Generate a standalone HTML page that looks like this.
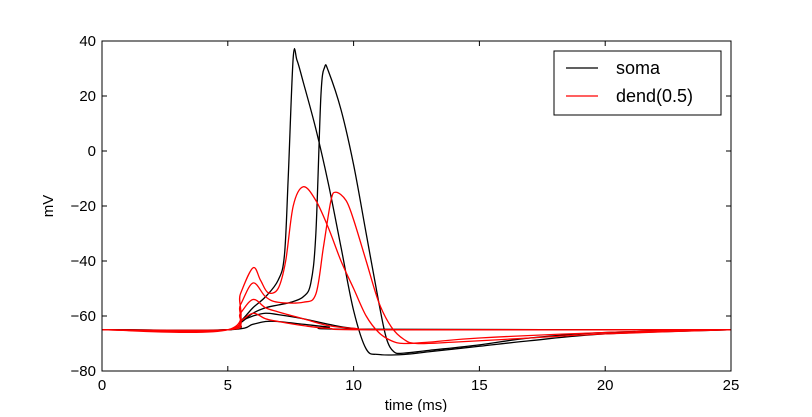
<!DOCTYPE html>
<html><head><meta charset="utf-8"><style>
body{margin:0;background:#fff;}
svg text{font-family:"Liberation Sans","DejaVu Sans",sans-serif;}
</style></head><body>
<svg id="chart" width="812" height="412" xmlns="http://www.w3.org/2000/svg"></svg>
<script>
const xTicks=[0,5,10,15,20,25];
const yTicks=[40,20,0,-20,-40,-60,-80];
const seriesNames=["soma","dend(0.5)"];
const soma1T=[0,5,5.5,6,6.5,7,7.25,7.4,7.6,7.75,8,8.5,9,9.5,10,10.5,11,12,13,15,17,20,25];
const soma1V=[-65,-65,-62,-57,-53,-47,-38,-10,34,33,25,8,-12,-35,-58,-72,-74,-74,-73,-71,-69,-66.5,-65];
const soma2T=[0,5,5.5,6,6.5,7,7.5,8,8.3,8.5,8.7,8.85,9,9.5,10,10.5,11,11.3,11.6,12,13,15,17,20,25];
const soma2V=[-65,-65,-62.5,-59,-57,-56,-55,-53,-48,-30,20,30.5,29,15,-5,-30,-55,-68,-73,-73.5,-72.5,-70.5,-68,-66,-65];
const soma3T=[0,5,5.5,6,6.5,7,8,9,10,12,25];
const soma3V=[-65,-65,-62,-60,-59,-59.5,-61,-63,-64.5,-65,-65];
const soma4T=[0,5,6,6.5,7,8,9,10,25];
const soma4V=[-65,-65,-63,-62,-62,-63,-64,-64.8,-65];
const dend1T=[0,5,5.5,6,6.3,6.6,7,7.3,7.6,8,8.5,9,9.5,10,10.5,11,11.5,12,13,15,20,25];
const dend1V=[-65,-65,-52,-42.5,-47,-51.5,-50,-40,-20,-13,-18,-28,-40,-50,-60,-66,-69,-70,-69.5,-68,-66,-65];
const dend2T=[0,5,5.5,6,6.5,7,8,8.5,8.8,9.1,9.3,9.7,10,10.5,11,11.5,12,12.5,14,17,20,25];
const dend2V=[-65,-65,-56,-48,-53,-55,-55,-52,-35,-18,-15,-18,-25,-40,-55,-64,-68.5,-70,-69.5,-68,-66.5,-65];
const dend3T=[0,5,5.5,6,6.5,7,8,9,10,12,25];
const dend3V=[-65,-65,-59,-54,-57,-58.5,-61,-63.5,-64.5,-65,-65];
const dend4T=[0,5,5.5,6,6.5,7,8,9,11,25];
const dend4V=[-65,-65,-62,-59,-61,-62,-63.5,-64.5,-65,-65];

const X0=102,X1=731,Y0=41,Y1=371;
const xs=t=>X0+(t-0)/(25-0)*(X1-X0);
const ys=v=>Y1-(v+80)/(120)*(Y1-Y0);
const svg=document.getElementById('chart');
const NS="http://www.w3.org/2000/svg";
function mk(tag,attrs){const e=document.createElementNS(NS,tag);for(const k in attrs)e.setAttribute(k,attrs[k]);svg.appendChild(e);return e;}
function pathFor(T,V){
  const p=T.map((t,i)=>[xs(t),ys(V[i])]);
  let d="M"+p[0][0]+","+p[0][1];
  for(let i=0;i<p.length-1;i++){
    const p0=p[Math.max(0,i-1)],p1=p[i],p2=p[i+1],p3=p[Math.min(p.length-1,i+2)];
    const c1=[p1[0]+(p2[0]-p0[0])/6,p1[1]+(p2[1]-p0[1])/6];
    const c2=[p2[0]-(p3[0]-p1[0])/6,p2[1]-(p3[1]-p1[1])/6];
    d+=` C${c1[0]},${c1[1]} ${c2[0]},${c2[1]} ${p2[0]},${p2[1]}`;
  }
  return d;
}
const traces=[[soma1T,soma1V,"#000","soma-trace-1"],[soma2T,soma2V,"#000","soma-trace-2"],[soma3T,soma3V,"#000","soma-trace-3"],[soma4T,soma4V,"#000","soma-trace-4"],
[dend1T,dend1V,"#f00","dend-trace-1"],[dend2T,dend2V,"#f00","dend-trace-2"],[dend3T,dend3V,"#f00","dend-trace-3"],[dend4T,dend4V,"#f00","dend-trace-4"]];
for(const [T,V,c,n] of traces){
  const e=mk('path',{d:pathFor(T,V),fill:"none",stroke:c,"stroke-width":1.3});
  
  
}
const fr=mk('rect',{x:X0,y:Y0,width:X1-X0,height:Y1-Y0,fill:"none",stroke:"#000","stroke-width":1});


for(const t of xTicks){
  const x=xs(t);
  mk('line',{x1:x,x2:x,y1:Y1,y2:Y1-5,stroke:"#000"});
  mk('line',{x1:x,x2:x,y1:Y0,y2:Y0+5,stroke:"#000"});
  const tx=mk('text',{x:x,y:Y1+19,"text-anchor":"middle","font-size":15});
  tx.textContent=t;
  
  
}
for(const v of yTicks){
  const y=ys(v);
  mk('line',{x1:X0,x2:X0+5,y1:y,y2:y,stroke:"#000"});
  mk('line',{x1:X1,x2:X1-5,y1:y,y2:y,stroke:"#000"});
  const tx=mk('text',{x:X0-6,y:y+5,"text-anchor":"end","font-size":15});
  tx.textContent=v===0?"0":(v<0?"\u2212"+(-v):v);
  
  
}
const xl=mk('text',{x:416,y:410,"text-anchor":"middle","font-size":15});
xl.textContent="time (ms)";


const yl=mk('text',{x:53,y:206,"text-anchor":"middle","font-size":15,transform:"rotate(-90 53 206)"});
yl.textContent="mV";


const lg=mk('rect',{x:554,y:51,width:167,height:64,fill:"#fff",stroke:"#000"});


const lc=["#000","#f00"];
seriesNames.forEach((n,i)=>{
  const y=68+i*28;
  const l=mk('line',{x1:566,x2:598,y1:y,y2:y,stroke:lc[i],"stroke-width":1.3});
  
  
  const t=mk('text',{x:616,y:y+6,"font-size":18});
  t.textContent=n;
  
  
});
</script>
</body></html>
